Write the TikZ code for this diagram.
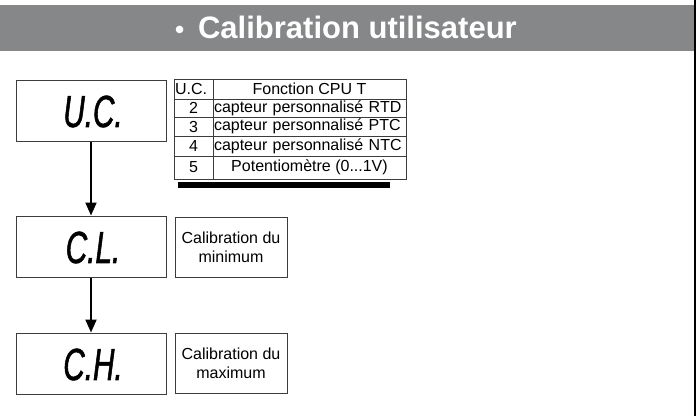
\documentclass[tikz,border=0pt]{standalone}
\usepackage{fontspec}
\setmainfont{Liberation Sans}
\newfontfamily\segfont[FakeStretch=0.66,FakeBold=1.2]{Liberation Sans}
\usetikzlibrary{arrows.meta}
\definecolor{bannergray}{RGB}{134,135,137}
\definecolor{boxline}{RGB}{60,60,60}
\tikzset{
  dispbox/.style={draw=boxline, line width=1pt, minimum width=150pt, minimum height=61pt, inner sep=0pt},
  descbox/.style={draw=boxline, line width=1pt, minimum width=112pt, minimum height=60pt, inner sep=0pt, align=center, font=\fontsize{16}{19}\selectfont},
  segtext/.style={font=\segfont\itshape\fontsize{45}{45}\selectfont},
  cell/.style={draw=boxline, line width=0.8pt, inner sep=0pt, font=\fontsize{16}{16}\selectfont},
  flow/.style={line width=2pt, -{Triangle[length=13pt,width=11pt]}},
}
\begin{document}
\begin{tikzpicture}[x=1pt,y=-1pt]
\useasboundingbox (0,0) rectangle (696,416);
% banner
\fill[bannergray] (0,5) rectangle (695,51);
\draw[line width=1.5pt] (695.2,0) -- (695.2,416);
\node[anchor=base, text=white, font=\bfseries\fontsize{31}{31}\selectfont] (title) at (346,38) {{\fontsize{26}{26}\selectfont •}\, Calibration utilisateur};
% display boxes
\node[dispbox] (uc) at (91,110.5) {};
\node[segtext] (uct) at (93,111.5) {U.C.};
\node[dispbox] (cl) at (91,246.5) {};
\node[segtext] (clt) at (93,247.5) {C.L.};
\node[dispbox] (ch) at (91,363.5) {};
\node[segtext] (cht) at (93,364.5) {C.H.};
% description boxes
\node[descbox] (dmin) at (231,247) {Calibration du\\minimum};
\node[descbox] (dmax) at (231,363.5) {Calibration du\\maximum};
% arrows
\draw[flow] (uc.south) -- (cl.north);
\draw[flow] (cl.south) -- (ch.north);
% table shadow
\fill[black] (178,182) rectangle (390,187.5);
% table cells
\node[cell, minimum width=39pt, minimum height=20pt, text width=37pt, align=left] (h1) at (193.5,89) {U.C.};
\node[cell, minimum width=193pt, minimum height=20pt] (h2) at (309.5,89) {Fonction CPU T};
\node[cell, minimum width=39pt, minimum height=18pt] (a1) at (193.5,108) {2};
\node[cell, minimum width=193pt, minimum height=18pt, text width=191pt, align=left] (a2) at (309.5,108) {capteur personnalisé RTD};
\node[cell, minimum width=39pt, minimum height=19pt] (b1) at (193.5,126.5) {3};
\node[cell, minimum width=193pt, minimum height=19pt, text width=191pt, align=left] (b2) at (309.5,126.5) {capteur personnalisé PTC};
\node[cell, minimum width=39pt, minimum height=20pt] (c1) at (193.5,146) {4};
\node[cell, minimum width=193pt, minimum height=20pt, text width=191pt, align=left] (c2) at (309.5,146) {capteur personnalisé NTC};
\node[cell, minimum width=39pt, minimum height=23pt] (d1) at (193.5,167.5) {5};
\node[cell, minimum width=193pt, minimum height=23pt] (d2) at (309.5,167.5) {Potentiomètre (0...1V)};
\end{tikzpicture}
\end{document}
